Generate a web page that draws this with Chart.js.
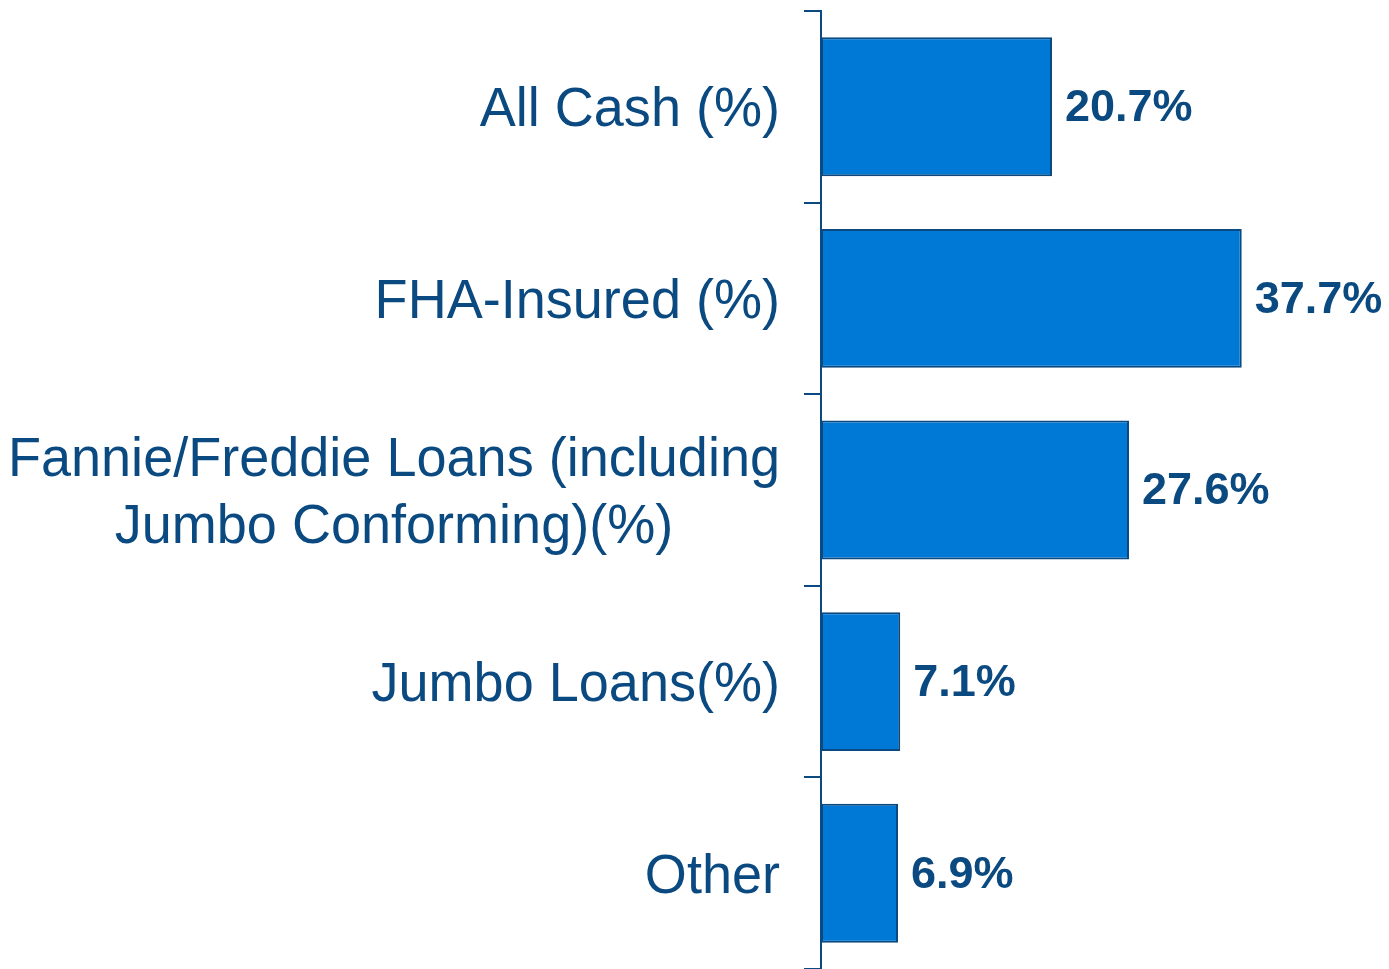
<!DOCTYPE html>
<html>
<head>
<meta charset="utf-8">
<script src="https://cdn.jsdelivr.net/npm/chart.js@4/dist/chart.umd.min.js"></script>
<style>
    html, body { margin: 0; padding: 0; background: #fff; }
    #holder { width: 1389px; height: 969px; position: relative; }
</style>
</head>
<body>
<div id="holder"><canvas id="chartArea"></canvas></div>
<script>
var categories = [
    'All Cash (%)',
    'FHA-Insured (%)',
    ['Fannie/Freddie Loans (including', 'Jumbo Conforming)(%)'],
    'Jumbo Loans(%)',
    'Other'
];
var shareValues = [20.7, 37.7, 27.6, 7.1, 6.9];

var navy = '#0B4A80';
var barBlue = '#0078D6';
var labelFont = '56px "Liberation Sans", Arial, sans-serif';

// draws the "20.7%" text next to each bar
var valueLabels = {
    id: 'valueLabels',
    afterDatasetsDraw: function (chart) {
        var c = chart.ctx;
        var meta = chart.getDatasetMeta(0);
        c.save();
        c.font = 'bold 45px "Liberation Sans", Arial, sans-serif';
        c.fillStyle = navy;
        c.textAlign = 'left';
        c.textBaseline = 'middle';
        meta.data.forEach(function (bar, i) {
            c.fillText(shareValues[i].toFixed(1) + '%', bar.x + 13, bar.y + 2);
        });
        c.restore();
    }
};

// category labels: one line right aligned, wrapped ones centred on their widest line
var categoryLabels = {
    id: 'categoryLabels',
    afterDraw: function (chart) {
        var c = chart.ctx;
        var yScale = chart.scales.y;
        var rightEdge = yScale.right - 17 - 24;
        var lineH = 67;
        var sx = 0.965; // the original text is a touch narrower than Arial
        c.save();
        c.font = labelFont;
        c.fillStyle = navy;
        c.textBaseline = 'middle';
        categories.forEach(function (lbl, i) {
            var y = yScale.getPixelForTick(i) + 4;
            c.save();
            c.translate(rightEdge, 0);
            c.scale(sx, 1);
            if (Array.isArray(lbl)) {
                var widest = 0;
                lbl.forEach(function (s) { widest = Math.max(widest, c.measureText(s).width); });
                c.textAlign = 'center';
                lbl.forEach(function (s, k) {
                    c.fillText(s, -widest / 2, y + (k - (lbl.length - 1) / 2) * lineH);
                });
            } else {
                c.textAlign = 'right';
                c.fillText(lbl, 0, y);
            }
            c.restore();
        });
        c.restore();
    }
};

var config = {
    type: 'bar',
    data: {
        labels: categories,
        datasets: [{
            data: shareValues,
            backgroundColor: barBlue,
            borderColor: navy,
            borderWidth: 2,
            borderSkipped: false,
            categoryPercentage: 1,
            barPercentage: 0.725
        }]
    },
    options: {
        indexAxis: 'y',
        responsive: true,
        maintainAspectRatio: false,
        animation: false,
        layout: { padding: { top: 11, right: 10, bottom: 0, left: 0 } },
        plugins: {
            legend: { display: false },
            title: { display: false },
            tooltip: { enabled: false }
        },
        scales: {
            x: {
                display: false,
                min: 0,
                max: 50
            },
            y: {
                afterFit: function (scale) {
                    scale.width = 821;
                    scale.paddingTop = 0;
                    scale.paddingBottom = 0;
                },
                border: { display: true, color: navy, width: 2 },
                grid: {
                    display: true,
                    drawOnChartArea: false,
                    drawTicks: true,
                    tickLength: 17,
                    color: navy,
                    lineWidth: 2
                },
                ticks: {
                    padding: 24,
                    callback: function () { return ''; }
                }
            }
        }
    },
    plugins: [valueLabels, categoryLabels]
};

var ctx = document.getElementById('chartArea').getContext('2d');
var myNewChart = new Chart(ctx, config);
</script>
</body>
</html>
